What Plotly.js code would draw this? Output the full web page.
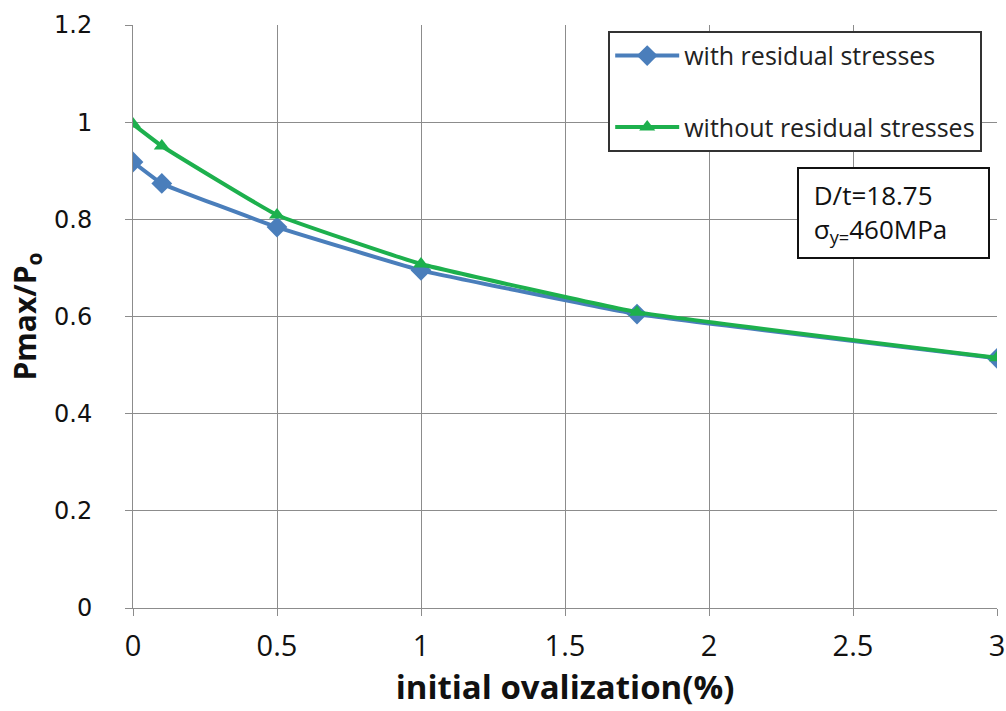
<!DOCTYPE html>
<html>
<head>
<meta charset="utf-8">
<script src="https://cdn.plot.ly/plotly-3.0.1.min.js"></script>
<style>html,body{margin:0;padding:0;background:#fff;}</style>
</head>
<body>
<div id="chart" style="width:1006px;height:711px;"></div>
<script>
var ovalization = [0, 0.1, 0.5, 1, 1.75, 3];
var withResidual = [0.918, 0.874, 0.784, 0.695, 0.605, 0.514];
var withoutResidual = [0.996, 0.951, 0.809, 0.708, 0.609, 0.515];
var seriesNames = ['with residual stresses', 'without residual stresses'];
var xTicks = [0, 0.5, 1, 1.5, 2, 2.5, 3];
var yTicks = [0, 0.2, 0.4, 0.6, 0.8, 1, 1.2];
var yTickText = ['0', '0.2', '0.4', '0.6', '0.8', '1', '1.2'];

var traces = [
  {
    x: ovalization, y: withResidual, name: seriesNames[0], type: 'scatter', mode: 'lines+markers',
    line: {color: '#4a7ebb', width: 4, shape: 'spline', smoothing: 0.3},
    marker: {symbol: 'diamond', size: 16, color: '#4a7ebb'},
    legendgroup: 'a'
  },
  {
    x: ovalization, y: withoutResidual, name: seriesNames[1], type: 'scatter', mode: 'lines+markers',
    line: {color: '#1db04d', width: 4, shape: 'spline', smoothing: 0.3},
    marker: {symbol: 'triangle-up', size: 14, color: '#1db04d'},
    legendgroup: 'b'
  }
];

var layout = {
  width: 1006, height: 711,
  margin: {l: 133, r: 9, t: 25, b: 103},
  paper_bgcolor: '#ffffff', plot_bgcolor: '#ffffff',
  showlegend: true,
  legend: {
    x: 0.55, y: 0.99, xanchor: 'left', yanchor: 'top',
    bgcolor: '#ffffff', bordercolor: '#333333', borderwidth: 2,
    font: {family: 'Open Sans, sans-serif', size: 25, color: '#222222'},
    traceorder: 'grouped', tracegroupgap: 36,
    itemwidth: 64
  },
  xaxis: {
    range: [0, 3], tickvals: xTicks, ticktext: xTicks.map(String),
    showgrid: true, gridcolor: '#8c8c8c', gridwidth: 1,
    zeroline: false, showline: true, linecolor: '#8c8c8c', linewidth: 1,
    ticks: 'outside', ticklen: 7, tickcolor: '#8c8c8c', ticklabelstandoff: 5,
    tickfont: {family: 'Open Sans, sans-serif', size: 29, color: '#111111'},
    title: {text: '<b>initial ovalization(%)</b>', font: {family: 'Open Sans, sans-serif', size: 33, color: '#111111'}, standoff: 12}
  },
  yaxis: {
    range: [0, 1.2], tickvals: yTicks, ticktext: yTickText,
    showgrid: true, gridcolor: '#8c8c8c', gridwidth: 1,
    zeroline: false, showline: true, linecolor: '#8c8c8c', linewidth: 1,
    ticks: 'outside', ticklen: 7, tickcolor: '#8c8c8c', ticklabelstandoff: 28,
    tickfont: {family: 'DejaVu Sans, sans-serif', size: 24, color: '#111111'},
    title: {text: '<b>Pmax/P<sub>o</sub></b>', font: {family: 'Open Sans, sans-serif', size: 30, color: '#111111'}, standoff: 8}
  },
  annotations: [
    {
      xref: 'paper', yref: 'paper', x: 0.992, y: 0.756, xanchor: 'right', yanchor: 'top',
      text: '&nbsp;D/t=18.75<br>&nbsp;σ<sub>y=</sub>460MPa', align: 'left', showarrow: false,
      width: 173,
      font: {family: 'Open Sans, sans-serif', size: 26, color: '#111111'},
      bgcolor: '#ffffff', bordercolor: '#111111', borderwidth: 2, borderpad: 8
    }
  ]
};

Plotly.newPlot('chart', traces, layout, {displayModeBar: false, staticPlot: true});
</script>
</body>
</html>
